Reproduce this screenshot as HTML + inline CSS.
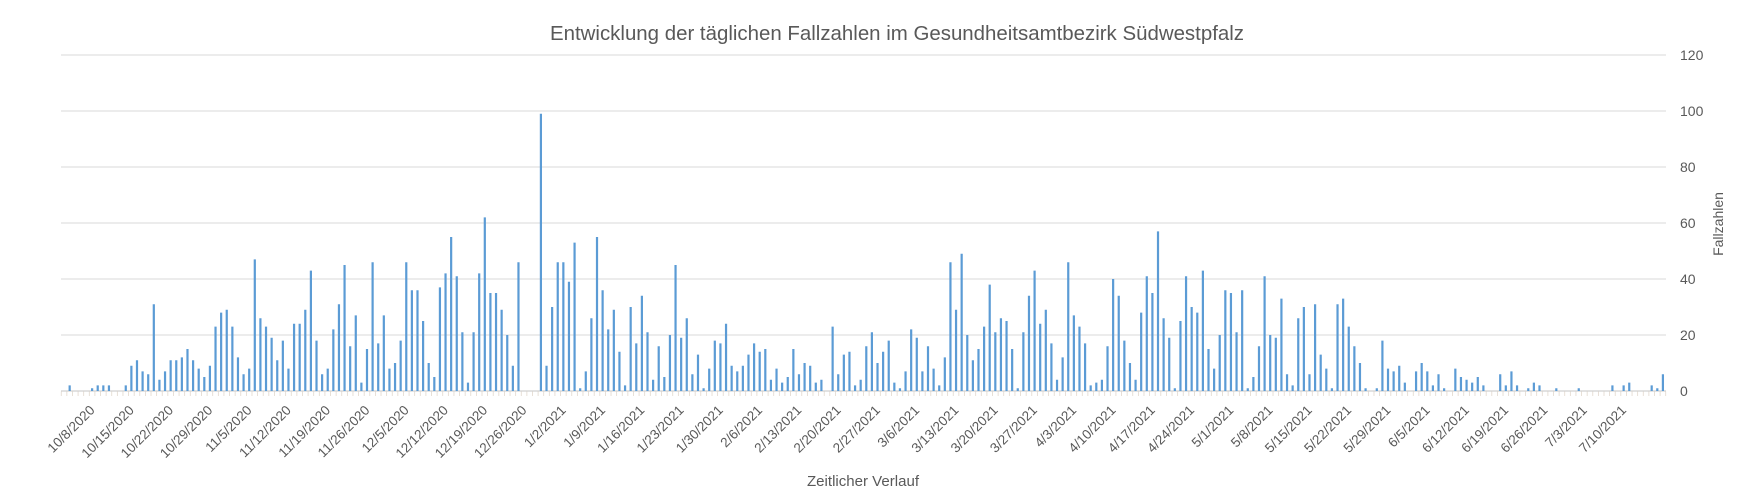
<!DOCTYPE html>
<html>
<head>
<meta charset="utf-8">
<style>
html,body{margin:0;padding:0;background:#fff;}
svg{display:block;}
text{font-family:"Liberation Sans",Arial,sans-serif;fill:#595959;}
</style>
</head>
<body>
<svg width="1745" height="501" viewBox="0 0 1745 501" xmlns="http://www.w3.org/2000/svg">
<rect x="0" y="0" width="1745" height="501" fill="#fff"/>

<!-- Title -->
<text x="897" y="40" text-anchor="middle" font-size="20" textLength="694" lengthAdjust="spacingAndGlyphs">Entwicklung der täglichen Fallzahlen im Gesundheitsamtbezirk Südwestpfalz</text>

<!-- Gridlines -->
<g stroke="#d9d9d9" stroke-width="1">
<line x1="61" y1="55" x2="1666" y2="55"/>
<line x1="61" y1="111" x2="1666" y2="111"/>
<line x1="61" y1="167" x2="1666" y2="167"/>
<line x1="61" y1="223" x2="1666" y2="223"/>
<line x1="61" y1="279" x2="1666" y2="279"/>
<line x1="61" y1="335" x2="1666" y2="335"/>
</g>

<!-- Axis line and tick marks -->
<line x1="61" y1="391" x2="1666" y2="391" stroke="#d0d0d0" stroke-width="1.2"/>
<line x1="60.85" y1="393.8" x2="1667" y2="393.8" stroke="#e2d8ce" stroke-width="4.5" stroke-dasharray="0.8 4.81"/>

<!-- Bars -->
<g transform="translate(62.96,391) scale(5.61,-2.8)">
<path fill="#5b9bd5" d="
M1 0h.392v2h-.392z M5 0h.392v1h-.392z M6 0h.392v2h-.392z M7 0h.392v2h-.392z M8 0h.392v2h-.392z
M11 0h.392v2h-.392z M12 0h.392v9h-.392z M13 0h.392v11h-.392z M14 0h.392v7h-.392z M15 0h.392v6h-.392z
M16 0h.392v31h-.392z M17 0h.392v4h-.392z M18 0h.392v7h-.392z M19 0h.392v11h-.392z M20 0h.392v11h-.392z
M21 0h.392v12h-.392z M22 0h.392v15h-.392z M23 0h.392v11h-.392z M24 0h.392v8h-.392z M25 0h.392v5h-.392z
M26 0h.392v9h-.392z M27 0h.392v23h-.392z M28 0h.392v28h-.392z M29 0h.392v29h-.392z M30 0h.392v23h-.392z
M31 0h.392v12h-.392z M32 0h.392v6h-.392z M33 0h.392v8h-.392z M34 0h.392v47h-.392z M35 0h.392v26h-.392z
M36 0h.392v23h-.392z M37 0h.392v19h-.392z M38 0h.392v11h-.392z M39 0h.392v18h-.392z M40 0h.392v8h-.392z
M41 0h.392v24h-.392z M42 0h.392v24h-.392z M43 0h.392v29h-.392z M44 0h.392v43h-.392z M45 0h.392v18h-.392z
M46 0h.392v6h-.392z M47 0h.392v8h-.392z M48 0h.392v22h-.392z M49 0h.392v31h-.392z M50 0h.392v45h-.392z
M51 0h.392v16h-.392z M52 0h.392v27h-.392z M53 0h.392v3h-.392z M54 0h.392v15h-.392z M55 0h.392v46h-.392z
M56 0h.392v17h-.392z M57 0h.392v27h-.392z M58 0h.392v8h-.392z M59 0h.392v10h-.392z M60 0h.392v18h-.392z
M61 0h.392v46h-.392z M62 0h.392v36h-.392z M63 0h.392v36h-.392z M64 0h.392v25h-.392z M65 0h.392v10h-.392z
M66 0h.392v5h-.392z M67 0h.392v37h-.392z M68 0h.392v42h-.392z M69 0h.392v55h-.392z M70 0h.392v41h-.392z
M71 0h.392v21h-.392z M72 0h.392v3h-.392z M73 0h.392v21h-.392z M74 0h.392v42h-.392z M75 0h.392v62h-.392z
M76 0h.392v35h-.392z M77 0h.392v35h-.392z M78 0h.392v29h-.392z M79 0h.392v20h-.392z M80 0h.392v9h-.392z
M81 0h.392v46h-.392z M85 0h.392v99h-.392z M86 0h.392v9h-.392z M87 0h.392v30h-.392z M88 0h.392v46h-.392z
M89 0h.392v46h-.392z M90 0h.392v39h-.392z M91 0h.392v53h-.392z M92 0h.392v1h-.392z M93 0h.392v7h-.392z
M94 0h.392v26h-.392z M95 0h.392v55h-.392z M96 0h.392v36h-.392z M97 0h.392v22h-.392z M98 0h.392v29h-.392z
M99 0h.392v14h-.392z M100 0h.392v2h-.392z M101 0h.392v30h-.392z M102 0h.392v17h-.392z M103 0h.392v34h-.392z
M104 0h.392v21h-.392z M105 0h.392v4h-.392z M106 0h.392v16h-.392z M107 0h.392v5h-.392z M108 0h.392v20h-.392z
M109 0h.392v45h-.392z M110 0h.392v19h-.392z M111 0h.392v26h-.392z M112 0h.392v6h-.392z M113 0h.392v13h-.392z
M114 0h.392v1h-.392z M115 0h.392v8h-.392z M116 0h.392v18h-.392z M117 0h.392v17h-.392z M118 0h.392v24h-.392z
M119 0h.392v9h-.392z M120 0h.392v7h-.392z M121 0h.392v9h-.392z M122 0h.392v13h-.392z M123 0h.392v17h-.392z
M124 0h.392v14h-.392z M125 0h.392v15h-.392z M126 0h.392v4h-.392z M127 0h.392v8h-.392z M128 0h.392v3h-.392z
M129 0h.392v5h-.392z M130 0h.392v15h-.392z M131 0h.392v6h-.392z M132 0h.392v10h-.392z M133 0h.392v9h-.392z
M134 0h.392v3h-.392z M135 0h.392v4h-.392z M137 0h.392v23h-.392z M138 0h.392v6h-.392z M139 0h.392v13h-.392z
M140 0h.392v14h-.392z M141 0h.392v2h-.392z M142 0h.392v4h-.392z M143 0h.392v16h-.392z M144 0h.392v21h-.392z
M145 0h.392v10h-.392z M146 0h.392v14h-.392z M147 0h.392v18h-.392z M148 0h.392v3h-.392z M149 0h.392v1h-.392z
M150 0h.392v7h-.392z M151 0h.392v22h-.392z M152 0h.392v19h-.392z M153 0h.392v7h-.392z M154 0h.392v16h-.392z
M155 0h.392v8h-.392z M156 0h.392v2h-.392z M157 0h.392v12h-.392z M158 0h.392v46h-.392z M159 0h.392v29h-.392z
M160 0h.392v49h-.392z M161 0h.392v20h-.392z M162 0h.392v11h-.392z M163 0h.392v15h-.392z M164 0h.392v23h-.392z
M165 0h.392v38h-.392z M166 0h.392v21h-.392z M167 0h.392v26h-.392z M168 0h.392v25h-.392z M169 0h.392v15h-.392z
M170 0h.392v1h-.392z M171 0h.392v21h-.392z M172 0h.392v34h-.392z M173 0h.392v43h-.392z M174 0h.392v24h-.392z
M175 0h.392v29h-.392z M176 0h.392v17h-.392z M177 0h.392v4h-.392z M178 0h.392v12h-.392z M179 0h.392v46h-.392z
M180 0h.392v27h-.392z M181 0h.392v23h-.392z M182 0h.392v17h-.392z M183 0h.392v2h-.392z M184 0h.392v3h-.392z
M185 0h.392v4h-.392z M186 0h.392v16h-.392z M187 0h.392v40h-.392z M188 0h.392v34h-.392z M189 0h.392v18h-.392z
M190 0h.392v10h-.392z M191 0h.392v4h-.392z M192 0h.392v28h-.392z M193 0h.392v41h-.392z M194 0h.392v35h-.392z
M195 0h.392v57h-.392z M196 0h.392v26h-.392z M197 0h.392v19h-.392z M198 0h.392v1h-.392z M199 0h.392v25h-.392z
M200 0h.392v41h-.392z M201 0h.392v30h-.392z M202 0h.392v28h-.392z M203 0h.392v43h-.392z M204 0h.392v15h-.392z
M205 0h.392v8h-.392z M206 0h.392v20h-.392z M207 0h.392v36h-.392z M208 0h.392v35h-.392z M209 0h.392v21h-.392z
M210 0h.392v36h-.392z M211 0h.392v1h-.392z M212 0h.392v5h-.392z M213 0h.392v16h-.392z M214 0h.392v41h-.392z
M215 0h.392v20h-.392z M216 0h.392v19h-.392z M217 0h.392v33h-.392z M218 0h.392v6h-.392z M219 0h.392v2h-.392z
M220 0h.392v26h-.392z M221 0h.392v30h-.392z M222 0h.392v6h-.392z M223 0h.392v31h-.392z M224 0h.392v13h-.392z
M225 0h.392v8h-.392z M226 0h.392v1h-.392z M227 0h.392v31h-.392z M228 0h.392v33h-.392z M229 0h.392v23h-.392z
M230 0h.392v16h-.392z M231 0h.392v10h-.392z M232 0h.392v1h-.392z M234 0h.392v1h-.392z M235 0h.392v18h-.392z
M236 0h.392v8h-.392z M237 0h.392v7h-.392z M238 0h.392v9h-.392z M239 0h.392v3h-.392z M241 0h.392v7h-.392z
M242 0h.392v10h-.392z M243 0h.392v7h-.392z M244 0h.392v2h-.392z M245 0h.392v6h-.392z M246 0h.392v1h-.392z
M248 0h.392v8h-.392z M249 0h.392v5h-.392z M250 0h.392v4h-.392z M251 0h.392v3h-.392z M252 0h.392v5h-.392z
M253 0h.392v2h-.392z M256 0h.392v6h-.392z M257 0h.392v2h-.392z M258 0h.392v7h-.392z M259 0h.392v2h-.392z
M261 0h.392v1h-.392z M262 0h.392v3h-.392z M263 0h.392v2h-.392z M266 0h.392v1h-.392z M270 0h.392v1h-.392z
M276 0h.392v2h-.392z M278 0h.392v2h-.392z M279 0h.392v3h-.392z M283 0h.392v2h-.392z M284 0h.392v1h-.392z
M285 0h.392v6h-.392z"/>
</g>

<!-- Y axis labels -->
<g font-size="14">
<text x="1680" y="60">120</text>
<text x="1680" y="116">100</text>
<text x="1680" y="172">80</text>
<text x="1680" y="228">60</text>
<text x="1680" y="284">40</text>
<text x="1680" y="340">20</text>
<text x="1680" y="396">0</text>
</g>
<text transform="translate(1723,224) rotate(-90)" text-anchor="middle" font-size="14">Fallzahlen</text>

<!-- X axis labels -->
<g font-size="13.5" text-anchor="end">
<text transform="translate(95.5,411) rotate(-45)">10/8/2020</text>
<text transform="translate(134.77,411) rotate(-45)">10/15/2020</text>
<text transform="translate(174.04,411) rotate(-45)">10/22/2020</text>
<text transform="translate(213.31,411) rotate(-45)">10/29/2020</text>
<text transform="translate(252.58,411) rotate(-45)">11/5/2020</text>
<text transform="translate(291.85,411) rotate(-45)">11/12/2020</text>
<text transform="translate(331.12,411) rotate(-45)">11/19/2020</text>
<text transform="translate(370.39,411) rotate(-45)">11/26/2020</text>
<text transform="translate(409.66,411) rotate(-45)">12/5/2020</text>
<text transform="translate(448.93,411) rotate(-45)">12/12/2020</text>
<text transform="translate(488.2,411) rotate(-45)">12/19/2020</text>
<text transform="translate(527.47,411) rotate(-45)">12/26/2020</text>
<text transform="translate(566.74,411) rotate(-45)">1/2/2021</text>
<text transform="translate(606.01,411) rotate(-45)">1/9/2021</text>
<text transform="translate(645.28,411) rotate(-45)">1/16/2021</text>
<text transform="translate(684.55,411) rotate(-45)">1/23/2021</text>
<text transform="translate(723.82,411) rotate(-45)">1/30/2021</text>
<text transform="translate(763.09,411) rotate(-45)">2/6/2021</text>
<text transform="translate(802.36,411) rotate(-45)">2/13/2021</text>
<text transform="translate(841.63,411) rotate(-45)">2/20/2021</text>
<text transform="translate(880.9,411) rotate(-45)">2/27/2021</text>
<text transform="translate(920.17,411) rotate(-45)">3/6/2021</text>
<text transform="translate(959.44,411) rotate(-45)">3/13/2021</text>
<text transform="translate(998.71,411) rotate(-45)">3/20/2021</text>
<text transform="translate(1037.98,411) rotate(-45)">3/27/2021</text>
<text transform="translate(1077.25,411) rotate(-45)">4/3/2021</text>
<text transform="translate(1116.52,411) rotate(-45)">4/10/2021</text>
<text transform="translate(1155.79,411) rotate(-45)">4/17/2021</text>
<text transform="translate(1195.06,411) rotate(-45)">4/24/2021</text>
<text transform="translate(1234.33,411) rotate(-45)">5/1/2021</text>
<text transform="translate(1273.6,411) rotate(-45)">5/8/2021</text>
<text transform="translate(1312.87,411) rotate(-45)">5/15/2021</text>
<text transform="translate(1352.14,411) rotate(-45)">5/22/2021</text>
<text transform="translate(1391.41,411) rotate(-45)">5/29/2021</text>
<text transform="translate(1430.68,411) rotate(-45)">6/5/2021</text>
<text transform="translate(1469.95,411) rotate(-45)">6/12/2021</text>
<text transform="translate(1509.22,411) rotate(-45)">6/19/2021</text>
<text transform="translate(1548.49,411) rotate(-45)">6/26/2021</text>
<text transform="translate(1587.76,411) rotate(-45)">7/3/2021</text>
<text transform="translate(1627.03,411) rotate(-45)">7/10/2021</text>
</g>

<!-- X axis title -->
<text x="863" y="486" text-anchor="middle" font-size="15" textLength="112" lengthAdjust="spacingAndGlyphs">Zeitlicher Verlauf</text>
</svg>
</body>
</html>
